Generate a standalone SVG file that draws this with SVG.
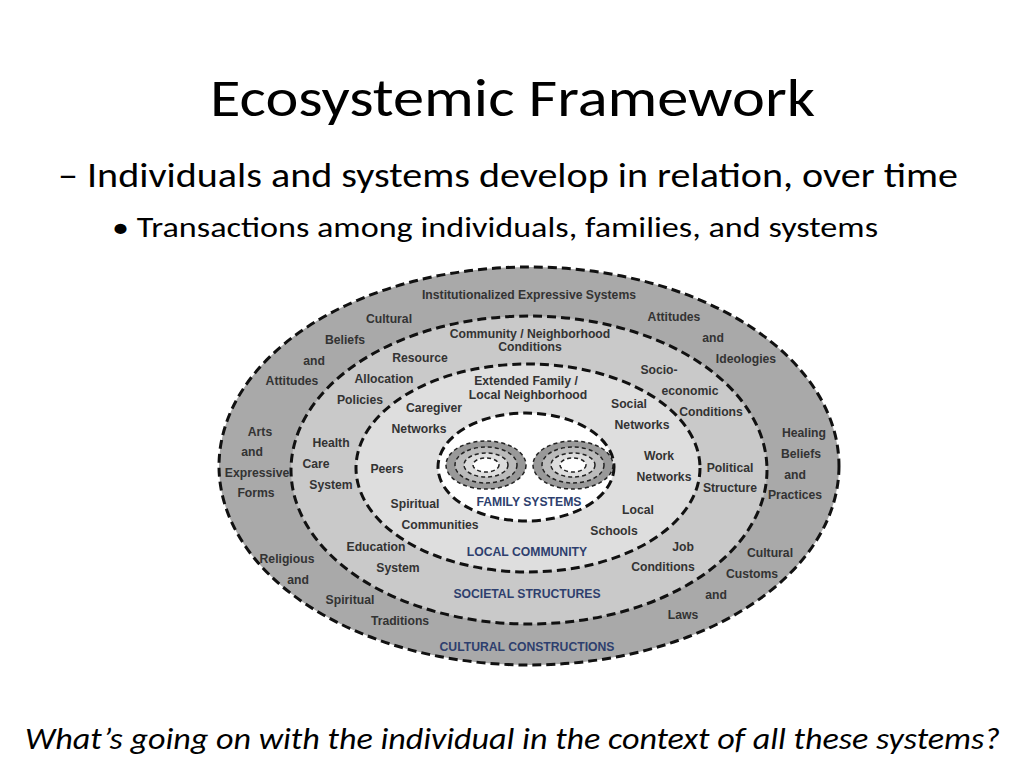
<svg xmlns="http://www.w3.org/2000/svg" width="1024" height="768" viewBox="0 0 1024 768">
<style>
.t{font-family:"Liberation Sans",Arial,sans-serif;font-size:12.2px;font-weight:bold;fill:#333;text-anchor:middle}
.b{font-family:"Liberation Sans",Arial,sans-serif;font-size:12.2px;font-weight:bold;fill:#2e3f6e;text-anchor:middle}
.d{stroke:#111;stroke-width:3;stroke-dasharray:9 5;}
.s{stroke:#222;stroke-width:1.5;stroke-dasharray:4 3;fill:none}
.h{font-family:Carlito,Calibri,"Open Sans",sans-serif;fill:#000}
</style>
<rect width="1024" height="768" fill="#fff"/>
<text class="h" x="210" y="116" font-size="54" textLength="605" lengthAdjust="spacingAndGlyphs">Ecosystemic Framework</text>
<text class="h" x="58" y="187" font-size="34" textLength="900" lengthAdjust="spacingAndGlyphs">– Individuals and systems develop in relation, over time</text>
<text class="h" x="112" y="237" font-size="29" textLength="766" lengthAdjust="spacingAndGlyphs">• Transactions among individuals, families, and systems</text>
<g id="ring-cultural"><ellipse class="d" cx="529" cy="466" rx="310" ry="199" fill="#a9a9a9"/></g>
<g id="ring-societal"><ellipse class="d" cx="529" cy="470" rx="238" ry="154" fill="#c9c9c9"/></g>
<g id="ring-local"><ellipse class="d" cx="528" cy="468" rx="172" ry="104" fill="#dedede"/></g>
<g id="ring-family"><ellipse class="d" cx="526" cy="467" rx="88" ry="54" fill="#fff"/>
<g id="spiral-1">
<ellipse cx="486" cy="465" rx="40" ry="24" fill="#999"/>
<ellipse cx="486" cy="465" rx="31" ry="18" fill="#bbb"/>
<ellipse cx="486" cy="465" rx="22" ry="12" fill="#ddd"/>
<ellipse cx="486" cy="465" rx="13" ry="7" fill="#fff"/>
<ellipse class="s" cx="486" cy="465" rx="40" ry="24"/><ellipse class="s" cx="486" cy="465" rx="31" ry="18"/><ellipse class="s" cx="486" cy="465" rx="22" ry="12"/><ellipse class="s" cx="486" cy="465" rx="13" ry="7"/></g>
<g id="spiral-2">
<ellipse cx="573" cy="465" rx="40" ry="24" fill="#999"/>
<ellipse cx="573" cy="465" rx="31" ry="18" fill="#bbb"/>
<ellipse cx="573" cy="465" rx="22" ry="12" fill="#ddd"/>
<ellipse cx="573" cy="465" rx="13" ry="7" fill="#fff"/>
<ellipse class="s" cx="573" cy="465" rx="40" ry="24"/><ellipse class="s" cx="573" cy="465" rx="31" ry="18"/><ellipse class="s" cx="573" cy="465" rx="22" ry="12"/><ellipse class="s" cx="573" cy="465" rx="13" ry="7"/></g>
<text class="b" x="529" y="506">FAMILY SYSTEMS</text></g>
<g id="labels">
<text class="t" x="529" y="299">Institutionalized Expressive Systems</text>
<text class="t" x="389" y="323">Cultural</text><text class="t" x="345" y="344">Beliefs</text><text class="t" x="314" y="365">and</text><text class="t" x="292" y="385">Attitudes</text>
<text class="t" x="674" y="321">Attitudes</text><text class="t" x="713" y="342">and</text><text class="t" x="746" y="363">Ideologies</text>
<text class="t" x="260" y="436">Arts</text><text class="t" x="252" y="456">and</text><text class="t" x="257" y="477">Expressive</text><text class="t" x="256" y="497">Forms</text>
<text class="t" x="804" y="437">Healing</text><text class="t" x="801" y="458">Beliefs</text><text class="t" x="795" y="479">and</text><text class="t" x="795" y="499">Practices</text>
<text class="t" x="287" y="563">Religious</text><text class="t" x="298" y="584">and</text><text class="t" x="350" y="604">Spiritual</text><text class="t" x="400" y="625">Traditions</text>
<text class="t" x="770" y="557">Cultural</text><text class="t" x="752" y="578">Customs</text><text class="t" x="716" y="599">and</text><text class="t" x="683" y="619">Laws</text>
<text class="b" x="527" y="651">CULTURAL CONSTRUCTIONS</text>
<text class="t" x="530" y="338">Community / Neighborhood</text><text class="t" x="530" y="351">Conditions</text>
<text class="t" x="420" y="362">Resource</text><text class="t" x="384" y="383">Allocation</text><text class="t" x="360" y="404">Policies</text>
<text class="t" x="659" y="374">Socio-</text><text class="t" x="690" y="395">economic</text><text class="t" x="711" y="416">Conditions</text>
<text class="t" x="331" y="447">Health</text><text class="t" x="316" y="468">Care</text><text class="t" x="331" y="489">System</text>
<text class="t" x="730" y="472">Political</text><text class="t" x="730" y="492">Structure</text>
<text class="t" x="376" y="551">Education</text><text class="t" x="398" y="572">System</text>
<text class="t" x="683" y="551">Job</text><text class="t" x="663" y="571">Conditions</text>
<text class="b" x="527" y="598">SOCIETAL STRUCTURES</text>
<text class="t" x="526" y="385">Extended Family /</text><text class="t" x="528" y="399">Local Neighborhood</text>
<text class="t" x="434" y="412">Caregiver</text><text class="t" x="419" y="433">Networks</text>
<text class="t" x="629" y="408">Social</text><text class="t" x="642" y="429">Networks</text>
<text class="t" x="387" y="473">Peers</text>
<text class="t" x="659" y="460">Work</text><text class="t" x="664" y="481">Networks</text>
<text class="t" x="415" y="508">Spiritual</text><text class="t" x="440" y="529">Communities</text>
<text class="t" x="638" y="514">Local</text><text class="t" x="614" y="535">Schools</text>
<text class="b" x="527" y="556">LOCAL COMMUNITY</text>
</g>
<text class="h" x="25" y="749" font-size="30" font-style="italic" textLength="975" lengthAdjust="spacingAndGlyphs">What’s going on with the individual in the context of all these systems?</text>
</svg>
